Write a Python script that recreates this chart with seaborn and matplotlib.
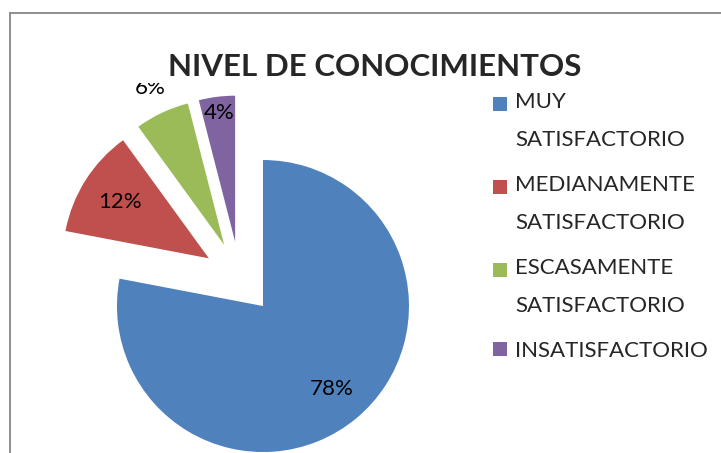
import matplotlib
matplotlib.use("Agg")
import matplotlib.pyplot as plt
import matplotlib.patches as mpatches
from matplotlib.font_manager import FontProperties
from matplotlib.legend_handler import HandlerPatch
from matplotlib.lines import Line2D
import numpy as np
import seaborn as sns

# ── Data ───────────────────────────────────────────────────────────
categories = [
    "MUY\nSATISFACTORIO",
    "MEDIANAMENTE\nSATISFACTORIO",
    "ESCASAMENTE\nSATISFACTORIO",
    "INSATISFACTORIO",
]
percentages = [78, 12, 6, 4]
title = "NIVEL DE CONOCIMIENTOS"
colors = ["#4F81BD", "#C0504D", "#9BBB59", "#8064A2"]

# distance of each % label from its slice tip, in radii (Excel "best fit")
label_dist = [0.735, 0.72, 1.185, 0.885]

W, H, DPI = 721, 453, 100
LEG_FS = 16
LINE_GAP_PX = 34  # baseline-to-baseline inside a two-line legend label

sns.set_style("white")
plt.rcParams["font.family"] = ["Lato", "DejaVu Sans"]

fig = plt.figure(figsize=(W / DPI, H / DPI), dpi=DPI)
ax = fig.add_axes([0, 0, 1, 1])

palette = sns.color_palette(colors)
wedges, _, pct_texts = ax.pie(
    percentages, colors=palette, startangle=90, counterclock=False,
    explode=[0.25] * len(percentages), autopct="%1.0f%%",
    textprops=dict(fontsize=16, color="black"),
    wedgeprops=dict(linewidth=0),
)
for w, t, d in zip(wedges, pct_texts, label_dist):
    ang = np.deg2rad((w.theta1 + w.theta2) / 2)
    t.set_position((w.center[0] + d * w.r * np.cos(ang),
                    w.center[1] + d * w.r * np.sin(ang)))

# pie centre sits at pixel (239.7, 277.9), radius 146 px
cx, cy, r_px = 239.7, 277.9, 146
ax.set_xlim(-cx / r_px, (W - cx) / r_px)
ax.set_ylim(-(H - cy) / r_px, cy / r_px)
ax.set_aspect("auto")
ax.axis("off")

# chart-area frame (only left and top edges visible)
frame_kw = dict(color="#868686", lw=1.3, transform=fig.transFigure)
fig.add_artist(Line2D([10 / W, 10 / W], [0, 1 - 12.5 / H], **frame_kw))
fig.add_artist(Line2D([10 / W, 1], [1 - 12.5 / H, 1 - 12.5 / H], **frame_kw))

# title with its white box (it hides the top of the 6% label)
fig.add_artist(mpatches.Rectangle((125 / W, 1 - 83 / H), 485 / W, 43 / H,
                                  transform=fig.transFigure, facecolor="white",
                                  edgecolor="none", zorder=2))
fig.text(375 / W, 1 - 76 / H, title, ha="center", va="baseline",
         fontsize=22.5, fontweight="bold", zorder=3)

# legend: square aligned with the first line of each label
for w, lbl in zip(wedges, categories):
    w.set_label(lbl)
lift_pt = 0.5 * LINE_GAP_PX * 72 / DPI


def square(legend, orig_handle, xdescent, ydescent, width, height, fontsize):
    n = orig_handle.get_label().count("\n")
    return mpatches.Rectangle((-xdescent, -ydescent + n * lift_pt), width, height)


leg = fig.legend(
    wedges, categories, loc="upper left", bbox_to_anchor=(493 / W, 1 - 91.7 / H),
    frameon=False, fontsize=LEG_FS, handlelength=0.63, handleheight=0.63,
    handletextpad=0.36, borderpad=0, borderaxespad=0, labelspacing=1.13,
    handler_map={mpatches.Wedge: HandlerPatch(patch_func=square)},
)
renderer = fig.canvas.get_renderer()
_, h_lp, d_lp = renderer.get_text_width_height_descent(
    "lp", FontProperties(size=LEG_FS), ismath=False)
for t in leg.get_texts():
    t.set_linespacing(LINE_GAP_PX / (h_lp - d_lp))

fig.savefig("out.png", dpi=DPI)
